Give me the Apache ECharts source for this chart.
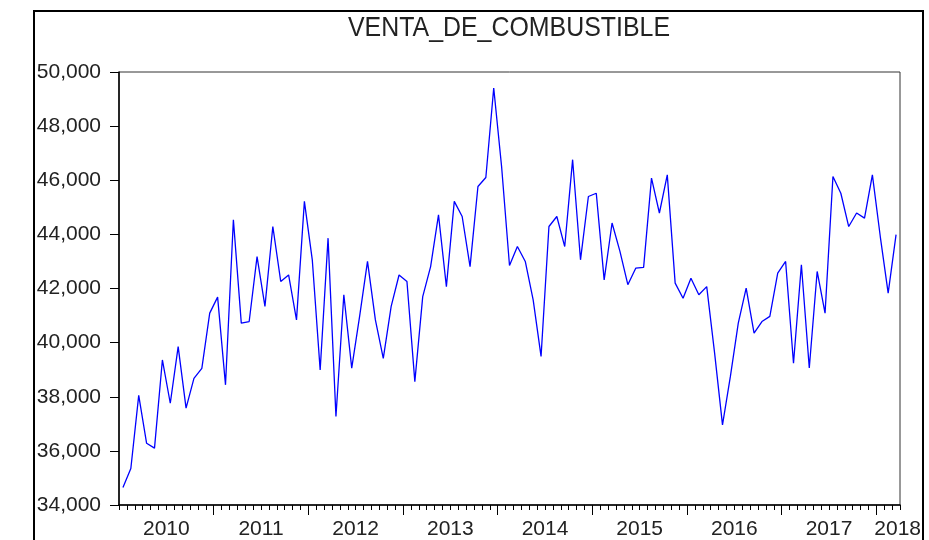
<!DOCTYPE html>
<html>
<head>
<meta charset="utf-8">
<script src="https://cdn.jsdelivr.net/npm/echarts@6/dist/echarts.min.js"></script>
<style>
  html, body { margin: 0; padding: 0; background: #fff; }
  #chart { width: 929px; height: 540px; }
</style>
</head>
<body>
<div id="chart"></div>
<script>
// monthly data, 2010M01 .. 2018M03
var years = ['2010', '2011', '2012', '2013', '2014', '2015', '2016', '2017', '2018'];
var sales = [
    34650, 35350, 38050, 36280, 36100, 39360, 37760, 39850, 37580, 38680, 39050, 41090,
    41680, 38440, 44540, 40720, 40780, 43180, 41340, 44290, 42260, 42500, 40840, 45220,
    43060, 38990, 43860, 37270, 41770, 39060, 40970, 43000, 40840, 39420, 41340, 42500,
    42260, 38560, 41700, 42810, 44720, 42070, 45220, 44660, 42810, 45770, 46100, 49410,
    46500, 42850, 43550, 43000, 41580, 39490, 44290, 44660, 43550, 46760, 43060, 45400,
    45520, 42320, 44420, 43370, 42140, 42750, 42780, 46080, 44790, 46200, 42200, 41640,
    42380, 41770, 42070, 39610, 36960, 38750, 40720, 42010, 40350, 40780, 40970, 42570,
    43000, 39240, 42880, 39060, 42630, 41090, 46140, 45520, 44290, 44790, 44600, 46200,
    43920, 41830, 43990
];
var yMin = 34000, yMax = 50000, yStep = 2000;

window.onload = function () {
    var n = sales.length;
    var monthEdges = [], yearEdges = [], yearMid = [];
    for (var i = 0; i <= n; i++) {
        monthEdges.push(i - 0.5);
        if (i % 12 === 0 && i > 0 && i < n) yearEdges.push(i - 0.5);
    }
    for (var k = 0; k < years.length; k++) {
        var mid = k * 12 + 5.5;
        if (mid > n - 1) mid = n - 0.8; // short last year, label sits at the end
        yearMid.push(mid);
    }
    var points = sales.map(function (v, idx) { return [idx, v]; });

    var chart = echarts.init(document.getElementById('chart'));
    chart.setOption({
        animation: false,
        backgroundColor: '#fff',
        graphic: [
            {
                type: 'rect',
                shape: { x: 34, y: 11, width: 889, height: 600 },
                style: { fill: 'none', stroke: '#000', lineWidth: 2 },
                silent: true
            },
            {
                type: 'text',
                x: 509, y: 14,
                scaleX: 0.89,
                style: {
                    text: 'VENTA_DE_COMBUSTIBLE',
                    font: '28px "Liberation Sans", Arial, sans-serif',
                    fill: '#222',
                    textAlign: 'center',
                    textVerticalAlign: 'top'
                }
            }
        ],
        grid: {
            left: 119, top: 72, right: 29, bottom: 35,
            show: true, borderColor: '#333', borderWidth: 1, backgroundColor: '#fff'
        },
        xAxis: [
            {
                type: 'value',
                min: -0.5, max: n - 0.5,
                axisLine: { onZero: false, lineStyle: { color: '#000', width: 1.5 } },
                axisTick: { customValues: monthEdges, length: 5, lineStyle: { color: '#000' } },
                axisLabel: { show: false },
                splitLine: { show: false }
            },
            {
                type: 'value',
                position: 'bottom',
                min: -0.5, max: n - 0.5,
                axisLine: { show: false, onZero: false },
                axisTick: { customValues: yearEdges, length: 10, lineStyle: { color: '#000' } },
                axisLabel: {
                    customValues: yearMid,
                    fontSize: 21,
                    fontFamily: '"Liberation Sans", Arial, sans-serif',
                    color: '#222',
                    margin: 14,
                    formatter: function (v) {
                        return years[Math.min(years.length - 1, Math.floor((v + 0.5) / 12))];
                    }
                },
                splitLine: { show: false }
            }
        ],
        yAxis: {
            type: 'value',
            min: yMin, max: yMax, interval: yStep,
            axisLine: { show: true, onZero: false, lineStyle: { color: '#000', width: 1.5 } },
            axisTick: { show: true, length: 9, lineStyle: { color: '#000' } },
            axisLabel: {
                fontSize: 21,
                fontFamily: '"Liberation Sans", Arial, sans-serif',
                color: '#222',
                margin: 18,
                formatter: function (v) { return v.toLocaleString('en-US'); }
            },
            splitLine: { show: false }
        },
        series: [{
            type: 'line',
            xAxisIndex: 0,
            data: points,
            showSymbol: false,
            lineStyle: { color: '#0000ff', width: 1.3 }
        }]
    });
};
</script>
</body>
</html>
